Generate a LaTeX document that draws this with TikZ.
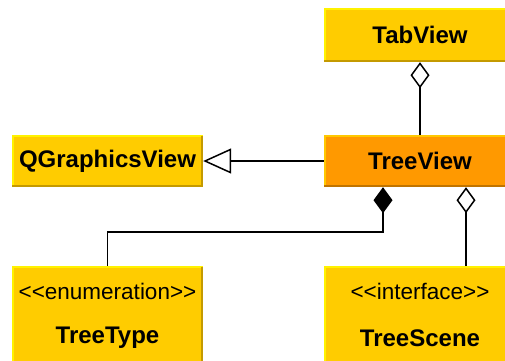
\documentclass[tikz,border=0pt]{standalone}
\usepackage{fontspec}
\setmainfont{Liberation Sans}
% plain family without TeX ligatures, so that << and >> stay as typed
\newfontfamily\plainsans{Liberation Sans}
\usetikzlibrary{arrows.meta}
\definecolor{clsfill}{HTML}{FFCC00}
\definecolor{clslight}{HTML}{FFF200}
\definecolor{clsdark}{HTML}{C49A00}
\definecolor{selfill}{HTML}{FF9900}
\definecolor{sellight}{HTML}{FFC800}
\definecolor{seldark}{HTML}{C07400}
\tikzset{
  classbox/.style={rectangle, fill=clsfill, inner sep=0pt, minimum width=192pt,
    font=\fontsize{24}{28}\selectfont\bfseries},
  selbox/.style={classbox, fill=selfill},
  stereo/.style={inner sep=0pt, font=\plainsans\fontsize{22.5}{26}\selectfont},
  title/.style={inner sep=0pt, font=\fontsize{24}{28}\selectfont\bfseries},
  conn/.style={draw=black, line width=1.7pt},
  aggr/.style={conn, {Diamond[open, length=26pt, width=19pt, line width=1.5pt]}-},
  comp/.style={conn, {Diamond[fill=black, length=26pt, width=19pt]}-},
  inherit/.style={conn, -{Triangle[open, length=28pt, width=25pt, line width=1.5pt]}},
}
% light top/left edge and dark bottom/right edge of a box
\newcommand{\bevel}[3]{%
  \draw[#2, line width=2pt] ([shift={(1pt,0pt)}]#1.south west) -- ([shift={(1pt,-1pt)}]#1.north west) -- ([shift={(0pt,-1pt)}]#1.north east);
  \draw[#3, line width=2pt] ([shift={(-1pt,-1pt)}]#1.north east) -- ([shift={(-1pt,1pt)}]#1.south east) -- ([shift={(0pt,1pt)}]#1.south west);
}
\begin{document}
\begin{tikzpicture}[x=1pt, y=-1pt]
\clip (0,0) rectangle (505,360);
\fill[white] (0,0) rectangle (505,360);

% class boxes
\node[classbox, minimum height=54pt] (tabview) at (420,35) {TabView};
\node[selbox, minimum height=52pt] (treeview) at (420,161) {TreeView};
\node[classbox, minimum width=191pt, minimum height=52pt] (qgv) at (107.5,161) {QGraphicsView};
\node[classbox, minimum width=191pt, minimum height=120pt, anchor=north] (treetype) at (107.5,266) {};
\node[classbox, minimum height=120pt, anchor=north] (treescene) at (420,266) {};

\bevel{tabview}{clslight}{clsdark}
\bevel{treeview}{sellight}{seldark}
\bevel{qgv}{clslight}{clsdark}
\bevel{treetype}{clslight}{clsdark}
\bevel{treescene}{clslight}{clsdark}

% stereotypes and names of the lower classes
\node[stereo] (treetypeStereo) at (107.5,291) {<<enumeration>>};
\node[title] (treetypeName) at (107.5,338) {TreeType};
\node[stereo] (treesceneStereo) at (420,291) {<<interface>>};
\node[title] (treesceneName) at (420,338) {TreeScene};

% relations
\draw[aggr] (tabview.south) -- (treeview.north);
\draw[inherit] (treeview.west) -- (qgv.east);
\coordinate (compStart) at ([xshift=-37pt]treeview.south);
\coordinate (aggStart) at ([xshift=46pt]treeview.south);
\draw[comp] (compStart) -- ++(0,45) -| (treetype.north);
\draw[aggr] (aggStart) -- (aggStart |- treescene.north);
\end{tikzpicture}
\end{document}
